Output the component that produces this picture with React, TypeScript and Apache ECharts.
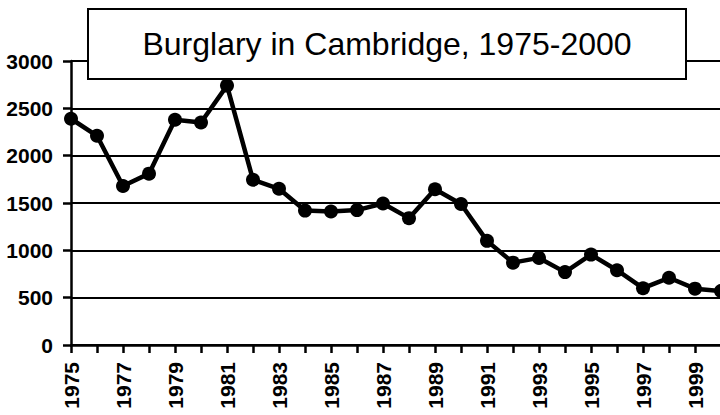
import React, { useEffect, useRef } from "react";
import * as echarts from "echarts";

const years: string[] = [
  "1975", "1976", "1977", "1978", "1979", "1980", "1981", "1982", "1983",
  "1984", "1985", "1986", "1987", "1988", "1989", "1990", "1991", "1992",
  "1993", "1994", "1995", "1996", "1997", "1998", "1999", "2000",
];

const burglaries: number[] = [
  2390, 2210, 1680, 1810, 2380, 2350, 2740, 1745, 1650,
  1420, 1410, 1425, 1495, 1340, 1645, 1490, 1100, 870,
  920, 770, 955, 790, 600, 710, 595, 570,
];

const titleText = "Burglary in Cambridge, 1975-2000";

export default function App() {
  const ref = useRef<HTMLDivElement>(null);

  useEffect(() => {
    if (!ref.current) return;
    const chart = echarts.init(ref.current, undefined, { renderer: "svg" });
    const axisFont = {
      fontFamily: "'Liberation Sans', Arial, sans-serif",
      fontWeight: "bold" as const,
      fontSize: 21,
      color: "#000",
    };
    chart.setOption({
      animation: false,
      backgroundColor: "#fff",
      grid: {
        left: 71,
        top: 61,
        width: 650,
        bottom: 70,
        containLabel: false,
        outerBoundsMode: "none",
      },
      xAxis: {
        type: "category",
        data: years,
        boundaryGap: false,
        axisLine: { lineStyle: { color: "#000", width: 2.5 } },
        axisTick: {
          show: true,
          interval: 0,
          length: 8,
          lineStyle: { color: "#000", width: 2.5 },
        },
        axisLabel: {
          ...axisFont,
          interval: 1,
          rotate: 90,
          margin: 17,
        },
        splitLine: { show: false },
      },
      yAxis: {
        type: "value",
        min: 0,
        max: 3000,
        interval: 500,
        axisLine: { show: true, lineStyle: { color: "#000", width: 2.5 } },
        axisTick: { show: true, length: 8, lineStyle: { color: "#000", width: 2.5 } },
        axisLabel: { ...axisFont, margin: 18, formatter: (v: number) => String(v) },
        splitLine: { show: true, lineStyle: { color: "#000", width: 2.2 } },
      },
      series: [
        {
          type: "line",
          data: burglaries,
          symbol: "circle",
          symbolSize: 14,
          showSymbol: true,
          lineStyle: { color: "#000", width: 4.5 },
          itemStyle: { color: "#000" },
          z: 5,
        },
      ],
      graphic: [
        {
          type: "rect",
          shape: { x: 88, y: 9, width: 598, height: 70 },
          style: { fill: "#fff", stroke: "#000", lineWidth: 2 },
          z: 100,
        },
        {
          type: "text",
          x: 387,
          y: 44,
          style: {
            text: titleText,
            fontFamily: "'Liberation Sans', Arial, sans-serif",
            fontSize: 32,
            fill: "#000",
            align: "center",
            verticalAlign: "middle",
          },
          z: 101,
        },
      ],
    });
    return () => chart.dispose();
  }, []);

  return (
    <div
      ref={ref}
      style={{ position: "fixed", left: 0, top: 0, width: 720, height: 415, background: "#fff" }}
    />
  );
}
